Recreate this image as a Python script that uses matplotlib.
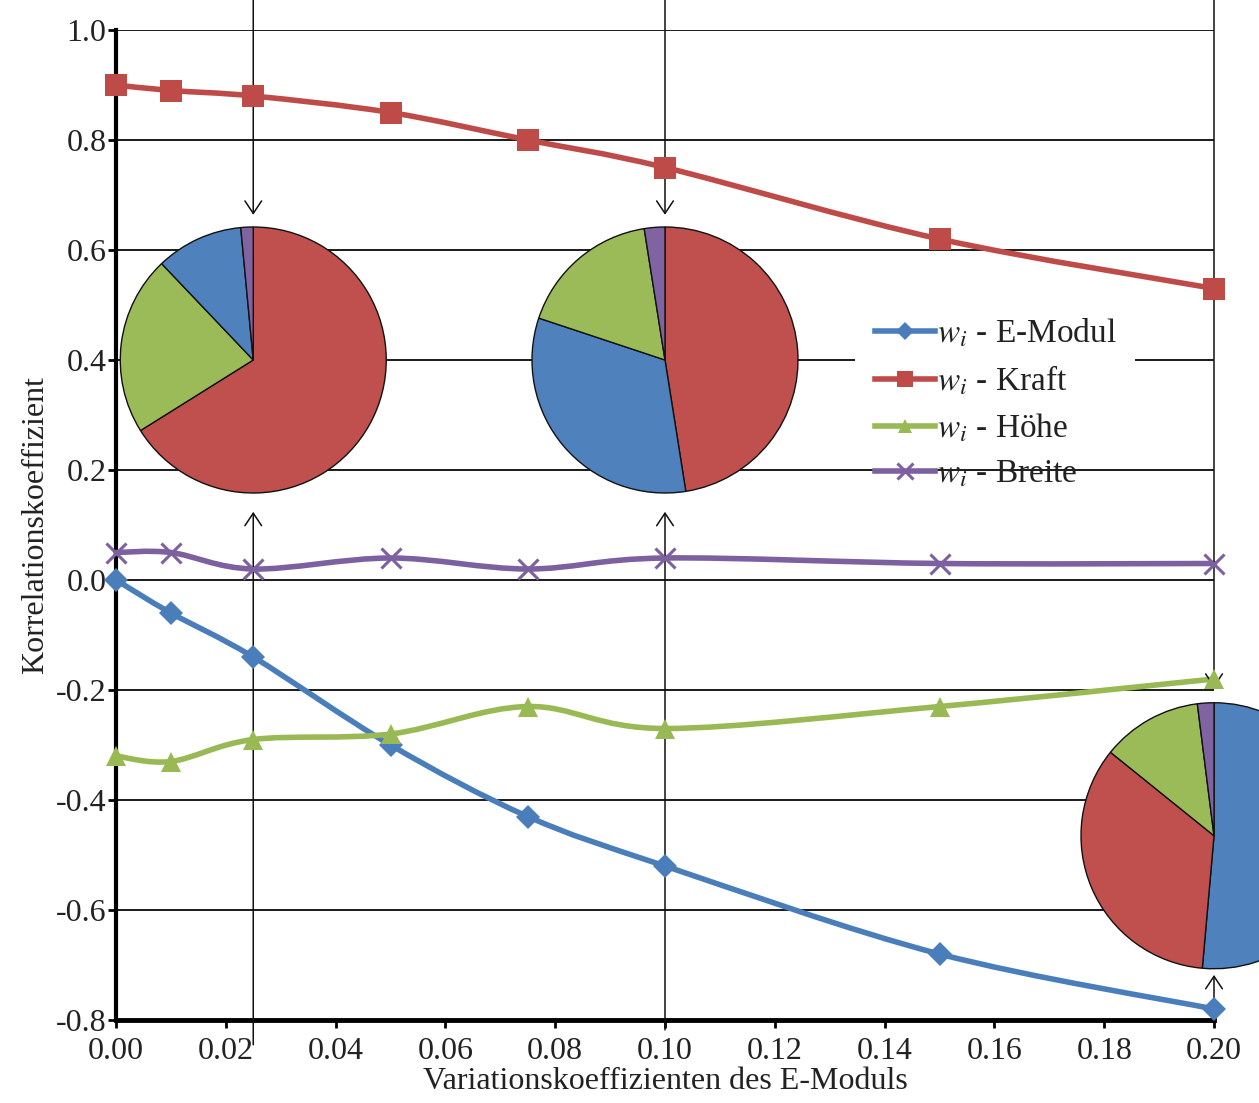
import numpy as np
import matplotlib
matplotlib.use('Agg')
import matplotlib.pyplot as plt
from matplotlib.path import Path
from matplotlib.patches import PathPatch, Rectangle
from matplotlib.lines import Line2D

plt.rcParams['font.family'] = ['Liberation Serif', 'DejaVu Serif']
plt.rcParams['mathtext.fontset'] = 'stix'

# Variationskoeffizient des E-Moduls
x = [0.0, 0.01, 0.025, 0.05, 0.075, 0.10, 0.15, 0.20]
emodul = [0.00, -0.06, -0.14, -0.30, -0.43, -0.52, -0.68, -0.78]
kraft = [0.90, 0.89, 0.88, 0.85, 0.80, 0.75, 0.62, 0.53]
hoehe = [-0.32, -0.33, -0.29, -0.28, -0.23, -0.27, -0.23, -0.18]
breite = [0.05, 0.05, 0.02, 0.04, 0.02, 0.04, 0.03, 0.03]

labels = [r'$w_i$ - E-Modul', r'$w_i$ - Kraft', r'$w_i$ - Höhe', r'$w_i$ - Breite']
line_cols = ['#4A7EBB', '#BE4B48', '#98B954', '#7D60A0']
pie_cols = ['#4F81BD', '#C0504D', '#9BBB59', '#8064A2']
markers = ['D', 's', '^', 'x']
msizes = [12, 16, 14, 15]

# Anteile in den Kreisdiagrammen (E-Modul, Kraft, Höhe, Breite)
pie_x = [0.025, 0.10, 0.20]
pie_y = [0.40, 0.40, -0.465]
pie_shares = [
    [10.6, 66.1, 21.8, 1.5],
    [32.6, 47.5, 17.4, 2.5],
    [51.4, 34.4, 12.2, 2.0],
]

xticks = [0.00, 0.02, 0.04, 0.06, 0.08, 0.10, 0.12, 0.14, 0.16, 0.18, 0.20]
yticks = [-0.8, -0.6, -0.4, -0.2, 0.0, 0.2, 0.4, 0.6, 0.8, 1.0]


def smooth_path(xs, ys):
    # glatte Linie wie in Excel (Bezier durch die Punkte)
    pts = np.column_stack([xs, ys])
    n = len(pts)
    verts = [pts[0]]
    codes = [Path.MOVETO]
    for i in range(n - 1):
        p0 = pts[max(i - 1, 0)]
        p1 = pts[i]
        p2 = pts[i + 1]
        p3 = pts[min(i + 2, n - 1)]
        verts += [p1 + (p2 - p0) / 6, p2 - (p3 - p1) / 6, p2]
        codes += [Path.CURVE4] * 3
    return Path(verts, codes)


fig = plt.figure(figsize=(12.59, 11.03), dpi=100)
ax = fig.add_axes([116 / 1259, 83 / 1103, 1098 / 1259, 990 / 1103])
ax.set_xlim(0, 0.2)
ax.set_ylim(-0.8, 1.0)

for yv in yticks[1:]:
    ax.axhline(yv, color='#1a1a1a', lw=1.4, zorder=1)

# weisser Hintergrund der Legende
ax.add_patch(Rectangle((0.1346, 0.215), 0.051, 0.285, facecolor='white',
                       edgecolor='none', zorder=1.5))

series = [emodul, kraft, hoehe, breite]
handles = []
for i, s in enumerate(series):
    ax.add_patch(PathPatch(smooth_path(x, s), fill=False, edgecolor=line_cols[i],
                           lw=4, capstyle='round', joinstyle='round', zorder=3,
                           clip_on=False))
    mew = 2.2 if markers[i] == 'x' else 0
    ax.plot(x, s, linestyle='none', marker=markers[i], ms=msizes[i], color=line_cols[i],
            mew=mew, zorder=4, clip_on=False)
    handles.append(Line2D([], [], color=line_cols[i], lw=4, marker=markers[i],
                          ms=msizes[i] * 0.75, mew=mew))

ax.legend(handles, labels, loc='upper left', bbox_to_anchor=(0.676, 0.727),
          frameon=False, fontsize=24, handlelength=1.8, handletextpad=0.05,
          labelspacing=0.44, borderpad=0, labelcolor='#222222')

for sp in ['top', 'right']:
    ax.spines[sp].set_visible(False)
ax.spines['left'].set_linewidth(3)
ax.spines['bottom'].set_linewidth(3.5)
ax.set_xticks(xticks)
ax.set_xticklabels(['%.2f' % v for v in xticks])
ax.set_yticks(yticks)
ax.set_yticklabels(['%.1f' % v for v in yticks])
ax.tick_params(axis='both', labelsize=23, labelcolor='#222222', width=2, length=6)
ax.tick_params(axis='x', pad=6)
ax.tick_params(axis='y', pad=1)
ax.set_xlabel('Variationskoeffizienten des E-Moduls', fontsize=23, color='#222222', labelpad=1)
ax.set_ylabel('Korrelationskoeffizient', fontsize=23, color='#222222', labelpad=4)

# Pfeile zu den Kreisdiagrammen
arr = dict(arrowstyle='->,head_length=0.45,head_width=0.3', lw=1.1, color='#111111',
           shrinkA=0, shrinkB=0, mutation_scale=20)
tips_top = [0.664, 0.664, -0.196]
tips_bot = [0.124, 0.124, -0.718]
ends_bot = [-0.845, -0.818, -0.80]
for i in range(3):
    ax.annotate('', xy=(pie_x[i], tips_top[i]), xytext=(pie_x[i], 1.0545),
                arrowprops=arr, annotation_clip=False)
    ax.annotate('', xy=(pie_x[i], tips_bot[i]), xytext=(pie_x[i], ends_bot[i]),
                arrowprops=arr, annotation_clip=False)

# Kreisdiagramme
w = 266 * 0.2 / 1098
h = 266 * 1.8 / 990
for i in range(3):
    pax = ax.inset_axes([pie_x[i] - w / 2, pie_y[i] - h / 2, w, h], transform=ax.transData)
    order = np.argsort(pie_shares[i])[::-1]
    vals = [pie_shares[i][k] for k in order]
    cols = [pie_cols[k] for k in order]
    pax.pie(vals, colors=cols, startangle=90, counterclock=False,
            wedgeprops=dict(edgecolor='#111111', linewidth=1.0, clip_on=False))
    pax.set_xlim(-1, 1)
    pax.set_ylim(-1, 1)
    pax.set_axis_off()

fig.savefig('out.png', dpi=100)
